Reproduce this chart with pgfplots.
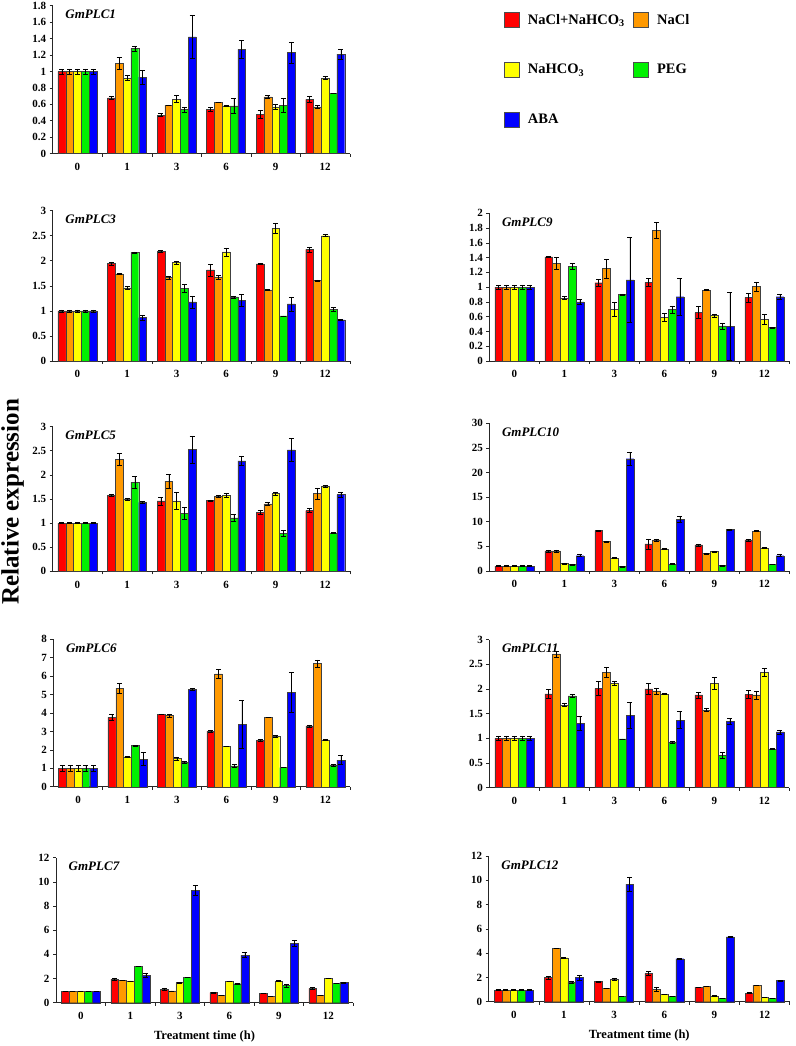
\documentclass[border=0pt]{standalone}
\usepackage{fontspec}
\setmainfont{Liberation Serif}
\usepackage{pgfplots}
\usepackage{pgfplotstable}
\pgfplotsset{compat=1.18}
\definecolor{cR}{RGB}{255,0,0}
\definecolor{cO}{RGB}{255,153,0}
\definecolor{cY}{RGB}{255,255,0}
\definecolor{cG}{RGB}{0,240,0}
\definecolor{cB}{RGB}{0,0,255}

% columns: x r re o oe yy ye g ge b be  (r=NaCl+NaHCO3, o=NaCl, yy=NaHCO3, g=PEG, b=ABA)
\pgfplotstableread{
x r re o oe yy ye g ge b be
0 1.00 0.03 1.00 0.03 1.00 0.03 1.00 0.03 1.00 0.03
1 0.68 0.02 1.10 0.07 0.92 0.03 1.28 0.03 0.93 0.08
2 0.47 0.02 0.59 0.005 0.665 0.04 0.54 0.03 1.42 0.26
3 0.54 0.02 0.625 0.005 0.58 0.005 0.58 0.09 1.27 0.11
4 0.48 0.05 0.69 0.02 0.57 0.03 0.59 0.08 1.23 0.13
5 0.66 0.04 0.57 0.02 0.92 0.02 0.73 0.0 1.21 0.06
}\tA
\pgfplotstableread{
x r re o oe yy ye g ge b be
0 1.00 0.02 1.00 0.02 1.00 0.02 1.00 0.02 1.00 0.02
1 1.95 0.03 1.74 0.01 1.46 0.03 2.17 0.01 0.865 0.05
2 2.19 0.02 1.67 0.03 1.97 0.03 1.45 0.08 1.18 0.12
3 1.82 0.12 1.68 0.04 2.18 0.08 1.28 0.02 1.21 0.12
4 1.94 0.005 1.42 0.01 2.65 0.10 0.90 0.0 1.14 0.14
5 2.23 0.05 1.61 0.01 2.50 0.02 1.03 0.04 0.82 0.005
}\tC
\pgfplotstableread{
x r re o oe yy ye g ge b be
0 1.00 0.01 1.00 0.01 1.00 0.01 1.00 0.01 1.00 0.01
1 1.58 0.02 2.32 0.12 1.50 0.02 1.85 0.12 1.43 0.02
2 1.46 0.08 1.87 0.14 1.46 0.18 1.20 0.12 2.53 0.28
3 1.47 0.01 1.55 0.02 1.58 0.04 1.11 0.07 2.29 0.09
4 1.22 0.04 1.40 0.04 1.61 0.03 0.79 0.06 2.52 0.23
5 1.26 0.04 1.61 0.12 1.76 0.02 0.79 0.01 1.59 0.05
}\tE
\pgfplotstableread{
x r re o oe yy ye g ge b be
0 1.00 0.15 1.00 0.15 1.00 0.15 1.00 0.15 1.00 0.15
1 3.77 0.15 5.35 0.25 1.63 0.03 2.23 0.03 1.50 0.35
2 3.93 0.02 3.86 0.10 1.54 0.08 1.32 0.04 5.28 0.05
3 3.02 0.06 6.13 0.25 2.20 0.01 1.14 0.08 3.38 1.30
4 2.53 0.05 3.77 0.01 2.72 0.05 1.04 0.0 5.12 1.08
5 3.30 0.06 6.69 0.20 2.55 0.01 1.18 0.04 1.45 0.25
}\tF
\pgfplotstableread{
x r re o oe yy ye g ge b be
0 0.95 0.0 0.95 0.0 0.95 0.0 0.95 0.0 0.95 0.0
1 1.96 0.10 1.85 0.02 1.80 0.0 3.00 0.02 2.29 0.15
2 1.13 0.10 0.97 0.0 1.66 0.02 2.10 0.0 9.30 0.40
3 0.83 0.03 0.63 0.0 1.79 0.02 1.57 0.06 3.94 0.22
4 0.77 0.0 0.52 0.0 1.79 0.03 1.41 0.12 4.91 0.25
5 1.19 0.06 0.63 0.0 2.04 0.02 1.63 0.0 1.68 0.05
}\tG
\pgfplotstableread{
x r re o oe yy ye g ge b be
0 1.00 0.03 1.00 0.03 1.00 0.03 1.00 0.03 1.00 0.03
1 1.41 0.01 1.32 0.08 0.85 0.02 1.28 0.04 0.80 0.03
2 1.06 0.05 1.25 0.13 0.70 0.10 0.90 0.01 1.10 0.58
3 1.065 0.05 1.77 0.11 0.59 0.05 0.695 0.05 0.87 0.25
4 0.655 0.08 0.96 0.005 0.615 0.02 0.475 0.04 0.465 0.46
5 0.86 0.06 1.01 0.06 0.565 0.07 0.455 0.005 0.87 0.03
}\tI
\pgfplotstableread{
x r re o oe yy ye g ge b be
0 1.0 0.1 1.0 0.1 1.0 0.1 1.0 0.1 1.0 0.1
1 4.1 0.2 4.1 0.2 1.55 0.1 1.35 0.1 3.1 0.2
2 8.2 0.1 6.0 0.1 2.6 0.1 0.9 0.05 22.8 1.4
3 5.5 1.0 6.3 0.2 4.5 0.1 1.4 0.1 10.5 0.6
4 5.3 0.2 3.6 0.1 4.0 0.1 1.1 0.05 8.4 0.1
5 6.3 0.2 8.1 0.1 4.7 0.1 1.35 0.05 3.1 0.2
}\tJ
\pgfplotstableread{
x r re o oe yy ye g ge b be
0 1.00 0.05 1.00 0.05 1.00 0.05 1.00 0.05 1.00 0.05
1 1.90 0.09 2.71 0.06 1.67 0.03 1.86 0.03 1.30 0.14
2 2.01 0.14 2.34 0.10 2.12 0.04 0.99 0.0 1.47 0.26
3 2.00 0.11 1.96 0.06 1.90 0.01 0.92 0.02 1.37 0.17
4 1.88 0.06 1.57 0.03 2.11 0.12 0.65 0.06 1.34 0.06
5 1.89 0.08 1.88 0.08 2.34 0.08 0.78 0.01 1.13 0.04
}\tK
\pgfplotstableread{
x r re o oe yy ye g ge b be
0 0.96 0.05 0.96 0.05 0.96 0.05 0.96 0.05 0.96 0.05
1 1.98 0.10 4.42 0.0 3.62 0.03 1.62 0.07 2.00 0.20
2 1.67 0.03 1.10 0.0 1.84 0.08 0.44 0.02 9.69 0.60
3 2.33 0.15 1.02 0.18 0.60 0.02 0.44 0.02 3.54 0.03
4 1.20 0.0 1.29 0.0 0.47 0.03 0.27 0.0 5.33 0.03
5 0.71 0.05 1.37 0.0 0.36 0.0 0.27 0.0 1.73 0.04
}\tL

\pgfplotsset{
  panel/.style={
    scale only axis, anchor=south west,
    xmin=-0.5, xmax=5.5, ymin=0,
    ybar=0pt, bar width=7.8pt,
    axis x line*=bottom, axis y line*=left,
    axis line style={line width=0.8pt, black!85, -},
    tick align=outside, major tick length=3pt,
    tick style={line width=0.6pt, black!85},
    xtick={0.5,1.5,2.5,3.5,4.5,5.5}, xticklabels={},
    extra x ticks={0,1,2,3,4,5}, extra x tick labels={0,1,3,6,9,12},
    extra x tick style={major tick length=0pt},
    tick label style={font=\bfseries\fontsize{11}{13}\selectfont},
    /pgf/number format/assume math mode=true,
    xticklabel style={yshift=-6pt},
    clip=false,
  },
  bardraw/.style={draw=black!75, line width=0.4pt,
    legend image code/.code={\draw[##1, draw=black!70, line width=0.4pt] (0pt,-7.5pt) rectangle (15pt,7.5pt);}},
  eb/.style={error bars/.cd, y dir=both, y explicit,
    error bar style={line width=0.5pt, black},
    error mark options={rotate=90, mark size=2.5pt, line width=0.5pt, black}},
  tlab/.style={xlabel={Treatment time (h)},
    xlabel style={font=\bfseries\fontsize{12.5}{15}\selectfont,
      at={(axis description cs:0.5,0)}, anchor=center, yshift=-34pt}},
}

\newcommand\panel[3]{%
\begin{axis}[panel,#1]
\addplot[fill=cR,bardraw,eb] table[x=x,y=r,y error=re]{#2};
\addplot[fill=cO,bardraw,eb] table[x=x,y=o,y error=oe]{#2};
\addplot[fill=cY,bardraw,eb] table[x=x,y=yy,y error=ye]{#2};
\addplot[fill=cG,bardraw,eb] table[x=x,y=g,y error=ge]{#2};
\addplot[fill=cB,bardraw,eb] table[x=x,y=b,y error=be]{#2};
\node[anchor=west, inner sep=0pt, xshift=12.5pt, yshift=-9pt,
  font=\bfseries\itshape\fontsize{13}{15}\selectfont] at (rel axis cs:0,1) {#3};
\end{axis}}

\begin{document}
\begin{tikzpicture}
\path[use as bounding box] (0,0) rectangle (795pt,1046pt);
% left column
\panel{at={(52.7pt,892.3pt)}, width=297.3pt, height=148pt, ymax=1.8,
  ytick={0,0.2,0.4,0.6,0.8,1,1.2,1.4,1.6,1.8},
  legend columns=2,
  legend entries={NaCl+NaHCO\textsubscript{3},NaCl,NaHCO\textsubscript{3},PEG,ABA},
  legend cell align=left,
  legend style={at={(axis description cs:1.518,0.955)}, anchor=north west,
    draw=none, fill=none, inner sep=0pt, outer sep=0pt,
    font=\bfseries\fontsize{14.5}{17}\selectfont,
    column sep=8.5pt, row sep=34.5pt, nodes={inner sep=0pt}}}{\tA}{GmPLC1}
\panel{at={(52.7pt,685pt)}, width=297.3pt, height=150.3pt, ymax=3,
  ytick={0,0.5,1,1.5,2,2.5,3}}{\tC}{GmPLC3}
\panel{at={(52.7pt,474.7pt)}, width=297.3pt, height=144.6pt, ymax=3,
  ytick={0,0.5,1,1.5,2,2.5,3}}{\tE}{GmPLC5}
\panel{at={(53.3pt,259.2pt)}, width=296.7pt, height=147.5pt, ymax=8,
  ytick={0,1,2,3,4,5,6,7,8}}{\tF}{GmPLC6}
\panel{at={(56pt,43.3pt)}, width=297pt, height=145pt, ymax=12,
  ytick={0,2,4,6,8,10,12}, tlab}{\tG}{GmPLC7}
% right column
\panel{at={(489.3pt,685pt)}, width=300pt, height=147.7pt, ymax=2,
  ytick={0,0.2,0.4,0.6,0.8,1,1.2,1.4,1.6,1.8,2}}{\tI}{GmPLC9}
\panel{at={(489.3pt,475pt)}, width=300pt, height=147.7pt, ymax=30,
  ytick={0,5,10,15,20,25,30}}{\tJ}{GmPLC10}
\panel{at={(489.3pt,258.4pt)}, width=300pt, height=148pt, ymax=3,
  ytick={0,0.5,1,1.5,2,2.5,3}}{\tK}{GmPLC11}
\panel{at={(488.7pt,44.3pt)}, width=301pt, height=145.7pt, ymax=12,
  ytick={0,2,4,6,8,10,12}, tlab}{\tL}{GmPLC12}
\node[rotate=90, anchor=north, inner sep=0pt,
  font=\bfseries\fontsize{25}{30}\selectfont] at (1pt,544pt) {Relative expression};
\end{tikzpicture}
\end{document}
